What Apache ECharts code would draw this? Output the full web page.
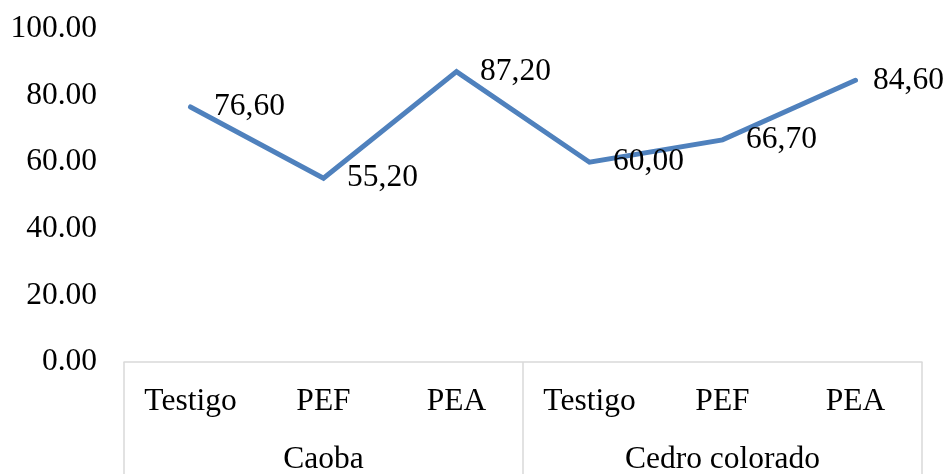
<!DOCTYPE html>
<html>
<head>
<meta charset="utf-8">
<script src="https://cdn.jsdelivr.net/npm/echarts@6/dist/echarts.min.js"></script>
<style>
html,body{margin:0;padding:0;background:#fff;}
#c{width:947px;height:476px;}
</style>
</head>
<body>
<div id="c"></div>
<script>
const categories = ['Testigo', 'PEF', 'PEA', 'Testigo', 'PEF', 'PEA'];
const groups = ['Caoba', 'Cedro colorado'];
const values = [76.6, 55.2, 87.2, 60.0, 66.7, 84.6];
const yTicks = [0, 20, 40, 60, 80, 100];

const FONT = 'Liberation Serif';
const FS = 31.5;
const chart = echarts.init(document.getElementById('c'), null, {renderer: 'canvas'});
const seriesData = values.map((v, i) => (i === values.length - 1)
  ? {value: v, label: {distance: 17}}
  : v);
chart.setOption({
  animation: false,
  backgroundColor: '#ffffff',
  grid: {left: 124, right: 25, top: 29, bottom: 108, containLabel: false},
  xAxis: [
    {
      type: 'category',
      data: categories,
      boundaryGap: true,
      axisLine: {show: true, lineStyle: {color: '#d9d9d9', width: 1.5}},
      axisTick: {show: false},
      axisLabel: {fontFamily: FONT, fontSize: FS, color: '#000', margin: 24, interval: 0}
    },
    {
      type: 'category',
      data: groups,
      position: 'bottom',
      boundaryGap: true,
      axisLine: {show: false},
      axisTick: {show: true, length: 112, interval: 0, lineStyle: {color: '#d9d9d9', width: 1.5}},
      axisLabel: {fontFamily: FONT, fontSize: FS, color: '#000', margin: 82, interval: 0}
    }
  ],
  yAxis: {
    type: 'value',
    min: yTicks[0],
    max: yTicks[yTicks.length - 1],
    interval: 20,
    axisLine: {show: false},
    axisTick: {show: false},
    splitLine: {show: false},
    axisLabel: {
      fontFamily: FONT, fontSize: FS, color: '#000', margin: 27,
      formatter: v => v.toFixed(2)
    }
  },
  series: [
    {
      type: 'line',
      xAxisIndex: 0,
      data: seriesData,
      showSymbol: true,
      symbol: 'circle',
      symbolSize: 1,
      itemStyle: {color: '#4f81bd', opacity: 0},
      lineStyle: {color: '#4f81bd', width: 5, cap: 'round', join: 'miter'},
      labelLayout: {hideOverlap: false},
      label: {
        show: true,
        position: 'right',
        distance: 23,
        fontFamily: FONT,
        fontSize: FS,
        color: '#000',
        opacity: 1,
        formatter: p => p.value.toFixed(2).replace('.', ',')
      }
    }
  ]
});
</script>
</body>
</html>
